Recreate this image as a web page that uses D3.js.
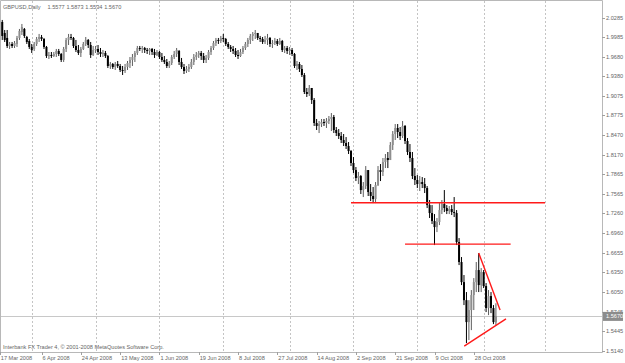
<!DOCTYPE html>
<html>
<head>
<meta charset="utf-8">
<title>GBPUSD Daily</title>
<style>
  body { margin: 0; background: #fff; }
  svg { display: block; font-family: "Liberation Sans", Arial, sans-serif; }
  .lbl { fill: #666; font-size: 5.6px; }
</style>
</head>
<body>
<div class="chart"></div>
<script src="https://cdnjs.cloudflare.com/ajax/libs/d3/7.8.5/d3.min.js"></script>
<script>
// daily bars, 17 Mar 2008 .. 7 Nov 2008 (Sunday bars included)
var opens = [2.0188,2.0219,2.0049,1.9972,1.9848,1.9879,1.9848,1.9879,1.9972,2.0064,
  2.0111,1.9987,1.9925,1.9833,1.9802,1.9879,1.9956,1.9987,1.9956,1.9833,
  1.9693,1.9709,1.9693,1.9724,1.9771,1.9724,1.9632,1.9802,1.9941,1.9987,
  1.9972,1.9848,1.9786,1.9740,1.9802,1.9879,1.9941,1.9863,1.9709,1.9786,
  1.9802,1.9755,1.9724,1.9740,1.9693,1.9539,1.9570,1.9523,1.9570,1.9539,
  1.9477,1.9462,1.9523,1.9585,1.9632,1.9678,1.9740,1.9817,1.9802,1.9817,
  1.9786,1.9771,1.9802,1.9755,1.9709,1.9755,1.9678,1.9632,1.9601,1.9539,
  1.9585,1.9678,1.9724,1.9771,1.9601,1.9523,1.9462,1.9493,1.9523,1.9601,
  1.9678,1.9709,1.9740,1.9693,1.9632,1.9663,1.9755,1.9817,1.9894,1.9941,
  1.9925,1.9972,1.9956,1.9879,1.9833,1.9802,1.9771,1.9709,1.9693,1.9755,
  1.9817,1.9879,1.9941,2.0003,2.0034,2.0049,1.9972,1.9956,1.9910,1.9941,
  1.9972,1.9879,1.9894,1.9925,1.9879,1.9925,1.9786,1.9817,1.9771,1.9786,
  1.9724,1.9539,1.9570,1.9493,1.9400,1.9137,1.9106,1.9199,1.9013,1.8658,
  1.8612,1.8642,1.8673,1.8658,1.8689,1.8720,1.8751,1.8550,1.8503,1.8457,
  1.8395,1.8349,1.8302,1.8225,1.8040,1.7931,1.7808,1.7839,1.7622,1.7684,
  1.7931,1.7591,1.7530,1.7483,1.7700,1.7931,1.7901,1.8055,1.8117,1.8086,
  1.8318,1.8488,1.8581,1.8519,1.8457,1.8612,1.8380,1.8210,1.8117,1.7839,
  1.7777,1.7715,1.7746,1.7715,1.7653,1.7390,1.7267,1.7143,1.7050,1.7128,
  1.7313,1.7406,1.7344,1.7298,1.7329,1.7282,1.7267,1.6819,1.6510,1.6200,
  1.5921,1.5582,1.5768,1.6000,1.6200,1.6386,1.6154,1.6355,1.6139,1.5799,
  1.5984,1.5799,1.5577];
var highs = [2.0219,2.0250,2.0095,2.0095,1.9910,1.9910,1.9925,2.0003,2.0111,2.0188,
  2.0126,2.0003,1.9956,1.9879,1.9910,1.9987,2.0034,2.0018,1.9972,1.9848,
  1.9755,1.9755,1.9755,1.9802,1.9802,1.9740,1.9833,1.9972,2.0034,2.0034,
  1.9987,1.9941,1.9863,1.9833,1.9910,1.9987,1.9956,1.9910,1.9848,1.9848,
  1.9863,1.9817,1.9786,1.9771,1.9709,1.9601,1.9585,1.9601,1.9616,1.9570,
  1.9539,1.9570,1.9616,1.9678,1.9724,1.9771,1.9848,1.9848,1.9848,1.9833,
  1.9817,1.9817,1.9817,1.9802,1.9786,1.9771,1.9740,1.9693,1.9647,1.9616,
  1.9709,1.9771,1.9817,1.9786,1.9663,1.9570,1.9539,1.9570,1.9647,1.9724,
  1.9755,1.9771,1.9771,1.9740,1.9709,1.9786,1.9848,1.9925,1.9972,1.9972,
  2.0003,2.0034,1.9972,1.9910,1.9863,1.9848,1.9817,1.9786,1.9802,1.9848,
  1.9910,1.9972,2.0034,2.0064,2.0095,2.0049,2.0003,1.9987,2.0003,2.0034,
  1.9987,1.9941,1.9972,1.9956,1.9972,1.9941,1.9848,1.9848,1.9833,1.9817,
  1.9740,1.9616,1.9601,1.9554,1.9431,1.9199,1.9245,1.9199,1.9044,1.8720,
  1.8689,1.8720,1.8720,1.8735,1.8766,1.8812,1.8782,1.8596,1.8565,1.8519,
  1.8488,1.8441,1.8364,1.8241,1.8132,1.7978,1.7901,1.7854,1.7746,1.7993,
  1.7931,1.7715,1.7669,1.7746,1.7993,1.8024,1.8117,1.8179,1.8210,1.8364,
  1.8534,1.8642,1.8642,1.8596,1.8689,1.8627,1.8426,1.8333,1.8210,1.7962,
  1.7854,1.7839,1.7823,1.7808,1.7684,1.7468,1.7390,1.7251,1.7190,1.7421,
  1.7468,1.7622,1.7390,1.7375,1.7390,1.7514,1.7313,1.6880,1.6587,1.6309,
  1.6046,1.5921,1.6077,1.6262,1.6510,1.6649,1.6417,1.6386,1.6185,1.6077,
  1.6046,1.5845,1.5873];
var lows = [2.0064,1.9941,1.9910,1.9817,1.9802,1.9817,1.9817,1.9833,1.9941,2.0018,
  1.9972,1.9879,1.9802,1.9740,1.9771,1.9848,1.9910,1.9925,1.9802,1.9663,
  1.9647,1.9663,1.9678,1.9678,1.9693,1.9601,1.9601,1.9755,1.9863,1.9941,
  1.9817,1.9755,1.9709,1.9678,1.9786,1.9848,1.9817,1.9663,1.9693,1.9740,
  1.9709,1.9678,1.9678,1.9663,1.9508,1.9493,1.9493,1.9477,1.9508,1.9446,
  1.9400,1.9431,1.9477,1.9508,1.9539,1.9601,1.9709,1.9771,1.9740,1.9740,
  1.9724,1.9709,1.9709,1.9663,1.9693,1.9647,1.9601,1.9570,1.9508,1.9508,
  1.9554,1.9647,1.9678,1.9554,1.9493,1.9415,1.9431,1.9446,1.9493,1.9554,
  1.9632,1.9663,1.9632,1.9585,1.9585,1.9632,1.9709,1.9786,1.9848,1.9879,
  1.9894,1.9910,1.9848,1.9802,1.9755,1.9724,1.9678,1.9647,1.9678,1.9724,
  1.9786,1.9833,1.9879,1.9925,1.9956,1.9941,1.9910,1.9879,1.9879,1.9863,
  1.9833,1.9817,1.9863,1.9848,1.9863,1.9755,1.9740,1.9724,1.9709,1.9693,
  1.9508,1.9477,1.9446,1.9369,1.9106,1.9060,1.9075,1.8952,1.8612,1.8550,
  1.8503,1.8596,1.8612,1.8581,1.8642,1.8534,1.8503,1.8457,1.8411,1.8349,
  1.8302,1.8256,1.8179,1.7993,1.7885,1.7761,1.7715,1.7561,1.7514,1.7638,
  1.7530,1.7452,1.7421,1.7421,1.7684,1.7761,1.7839,1.7962,1.7962,1.8086,
  1.8241,1.8395,1.8426,1.8395,1.8426,1.8333,1.8163,1.8055,1.7792,1.7700,
  1.7653,1.7607,1.7653,1.7576,1.7344,1.7190,1.7097,1.6772,1.6973,1.7081,
  1.7251,1.7282,1.7251,1.7251,1.7236,1.7205,1.6772,1.6463,1.6154,1.5845,
  1.5257,1.5304,1.5458,1.5768,1.6046,1.6046,1.6046,1.6108,1.5737,1.5690,
  1.5721,1.5551,1.5534];
var closes = [2.0095,2.0003,1.9941,1.9848,1.9879,1.9848,1.9894,1.9972,2.0080,2.0142,
  2.0003,1.9910,1.9833,1.9786,1.9879,1.9956,1.9987,1.9956,1.9833,1.9693,
  1.9709,1.9693,1.9724,1.9771,1.9724,1.9632,1.9802,1.9941,1.9987,1.9972,
  1.9848,1.9786,1.9740,1.9802,1.9879,1.9941,1.9863,1.9709,1.9786,1.9802,
  1.9755,1.9724,1.9740,1.9693,1.9539,1.9570,1.9523,1.9570,1.9539,1.9477,
  1.9462,1.9523,1.9585,1.9632,1.9678,1.9740,1.9817,1.9802,1.9817,1.9786,
  1.9771,1.9802,1.9755,1.9709,1.9755,1.9678,1.9632,1.9601,1.9539,1.9585,
  1.9678,1.9724,1.9786,1.9601,1.9523,1.9462,1.9493,1.9523,1.9601,1.9678,
  1.9709,1.9740,1.9693,1.9632,1.9663,1.9755,1.9817,1.9894,1.9941,1.9925,
  1.9972,1.9956,1.9879,1.9833,1.9802,1.9771,1.9709,1.9693,1.9755,1.9817,
  1.9879,1.9941,2.0003,2.0034,2.0049,1.9972,1.9956,1.9910,1.9941,1.9972,
  1.9879,1.9894,1.9925,1.9879,1.9925,1.9786,1.9817,1.9771,1.9786,1.9724,
  1.9539,1.9570,1.9493,1.9400,1.9137,1.9106,1.9199,1.9013,1.8658,1.8612,
  1.8642,1.8673,1.8658,1.8689,1.8720,1.8751,1.8550,1.8503,1.8457,1.8395,
  1.8349,1.8302,1.8225,1.8040,1.7931,1.7808,1.7839,1.7622,1.7684,1.7931,
  1.7591,1.7530,1.7483,1.7700,1.7931,1.7901,1.8055,1.8117,1.8086,1.8318,
  1.8488,1.8581,1.8519,1.8457,1.8612,1.8380,1.8210,1.8117,1.7839,1.7777,
  1.7715,1.7746,1.7715,1.7653,1.7390,1.7267,1.7143,1.7050,1.7128,1.7313,
  1.7406,1.7344,1.7298,1.7329,1.7282,1.7267,1.6819,1.6510,1.6200,1.5921,
  1.5582,1.5768,1.6000,1.6200,1.6386,1.6154,1.6355,1.6139,1.5799,1.5984,
  1.5799,1.5582,1.5670];

var priceTicks = [2.0285,1.9985,1.9680,1.9380,1.9075,1.8775,1.8470,1.8170,1.7865,
  1.7565,1.7260,1.6960,1.6655,1.6350,1.6050,1.5745,1.5445,1.5140];
var dateTickBars = [0,17,33,49,65,81,97,113,129,145,161,177,193];
var dateTickLabels = ["17 Mar 2008","6 Apr 2008","24 Apr 2008","13 May 2008","1 Jun 2008",
  "19 Jun 2008","8 Jul 2008","27 Jul 2008","14 Aug 2008","2 Sep 2008","21 Sep 2008",
  "9 Oct 2008","28 Oct 2008"];
// first bar of each month -> vertical grid
var monthBars = [13,39,65,91,118,144,170,197,222];

var symbolName = "GBPUSD,Daily";
var lastQuote = [1.5577, 1.5873, 1.5534, 1.5670];
var footer = "Interbank FX Trader 4, \u00a9 2001-2008 MetaQuotes Software Corp.";

// hand drawn objects: [bar1, price1, bar2, price2]
var trendLines = [
  [143, 1.7426, 222, 1.7426],
  [165, 1.6787, 208, 1.6787],
  [195, 1.6649, 203.7, 1.5768],
  [189.1, 1.5211, 206.1, 1.5633]
];

var W = 625, H = 363,
    plotRight = 602, plotBottom = 352;

var svg = d3.select('.chart').append('svg')
    .attr('width', W)
    .attr('height', H);

svg.append('rect').attr('width', W).attr('height', H).attr('fill', '#fff');

var x = d3.scaleLinear()
    .domain([0, closes.length - 1])
    .range([-0.2, -0.2 + (closes.length - 1) * 2.456]);

var y = d3.scaleLinear()
    .domain([1.5140, 2.0285])
    .range([350.7, 17.7]);

// grid
svg.append('g').selectAll('line')
    .data(monthBars)
    .enter().append('line')
    .attr('x1', function (d) { return Math.round(x(d)) + 0.5; })
    .attr('x2', function (d) { return Math.round(x(d)) + 0.5; })
    .attr('y1', 1)
    .attr('y2', plotBottom)
    .attr('stroke', '#c4c4c4')
    .attr('stroke-width', 1)
    .attr('stroke-dasharray', '2,2');

// bid line
svg.append('line')
    .attr('x1', 0).attr('x2', plotRight)
    .attr('y1', Math.round(y(lastQuote[3])) + 0.5)
    .attr('y2', Math.round(y(lastQuote[3])) + 0.5)
    .attr('stroke', '#c8c8c8');

// candles
var bars = svg.append('g').selectAll('g')
    .data(closes.map(function (c, i) {
        return {i: i, o: opens[i], h: highs[i], l: lows[i], c: c};
    }))
    .enter().append('g');

bars.append('line')
    .attr('x1', function (d) { return x(d.i); })
    .attr('x2', function (d) { return x(d.i); })
    .attr('y1', function (d) { return y(d.h); })
    .attr('y2', function (d) { return y(d.l); })
    .attr('stroke', function (d) { return d.c >= d.o ? '#5e5e5e' : '#000'; })
    .attr('stroke-width', 1);

bars.append('rect')
    .attr('x', function (d) { return x(d.i) - 1; })
    .attr('width', 2)
    .attr('y', function (d) { return y(Math.max(d.o, d.c)); })
    .attr('height', function (d) { return Math.max(0.9, Math.abs(y(d.o) - y(d.c))); })
    .attr('fill', function (d) { return d.c >= d.o ? '#8e8e8e' : '#000'; });

// trend lines
svg.append('g').selectAll('line')
    .data(trendLines)
    .enter().append('line')
    .attr('x1', function (d) { return x(d[0]); })
    .attr('y1', function (d) { return y(d[1]); })
    .attr('x2', function (d) { return x(d[2]); })
    .attr('y2', function (d) { return y(d[3]); })
    .attr('stroke', '#ff1a1a')
    .attr('stroke-width', 1.4);

// frame
svg.append('path')
    .attr('d', 'M0.5,' + plotBottom + 'V0.5H' + (plotRight + 0.5) + 'V' + (plotBottom + 0.5) + 'H0')
    .attr('fill', 'none')
    .attr('stroke', '#b8b8b8');

// price axis
var yAxis = svg.append('g');
yAxis.selectAll('line')
    .data(priceTicks)
    .enter().append('line')
    .attr('x1', plotRight).attr('x2', plotRight + 3)
    .attr('y1', function (d) { return Math.round(y(d)) + 0.5; })
    .attr('y2', function (d) { return Math.round(y(d)) + 0.5; })
    .attr('stroke', '#a0a0a0');
yAxis.selectAll('text')
    .data(priceTicks)
    .enter().append('text')
    .attr('class', 'lbl')
    .attr('x', plotRight + 4)
    .attr('y', function (d) { return y(d) + 2; })
    .text(function (d) { return d3.format('.4f')(d); });

// current price box
var py = y(lastQuote[3]);
svg.append('rect')
    .attr('x', plotRight + 1).attr('y', py - 4.5)
    .attr('width', 20).attr('height', 9)
    .attr('fill', '#8c8c8c');
svg.append('text')
    .attr('class', 'lbl')
    .attr('x', plotRight + 4).attr('y', py + 2)
    .style('fill', '#fff')
    .text(d3.format('.4f')(lastQuote[3]));

// time axis
var xAxis = svg.append('g');
xAxis.selectAll('line')
    .data(dateTickBars)
    .enter().append('line')
    .attr('x1', function (d) { return Math.round(x(d)) + 0.5; })
    .attr('x2', function (d) { return Math.round(x(d)) + 0.5; })
    .attr('y1', plotBottom).attr('y2', plotBottom + 3)
    .attr('stroke', '#a0a0a0');
xAxis.selectAll('text')
    .data(dateTickBars)
    .enter().append('text')
    .attr('class', 'lbl')
    .attr('x', function (d) { return x(d) + 1; })
    .attr('y', 360)
    .text(function (d, i) { return dateTickLabels[i]; });

// header and footer
svg.append('text').attr('class', 'lbl')
    .attr('x', 3).attr('y', 8.5)
    .text(symbolName);
svg.append('g').selectAll('text')
    .data(lastQuote)
    .enter().append('text')
    .attr('class', 'lbl')
    .attr('x', function (d, i) { return 47.5 + i * 18.9; })
    .attr('y', 8.5)
    .text(function (d) { return d3.format('.4f')(d); });
svg.append('text').attr('class', 'lbl')
    .attr('x', 3).attr('y', 349)
    .text(footer);
</script>
</body>
</html>
